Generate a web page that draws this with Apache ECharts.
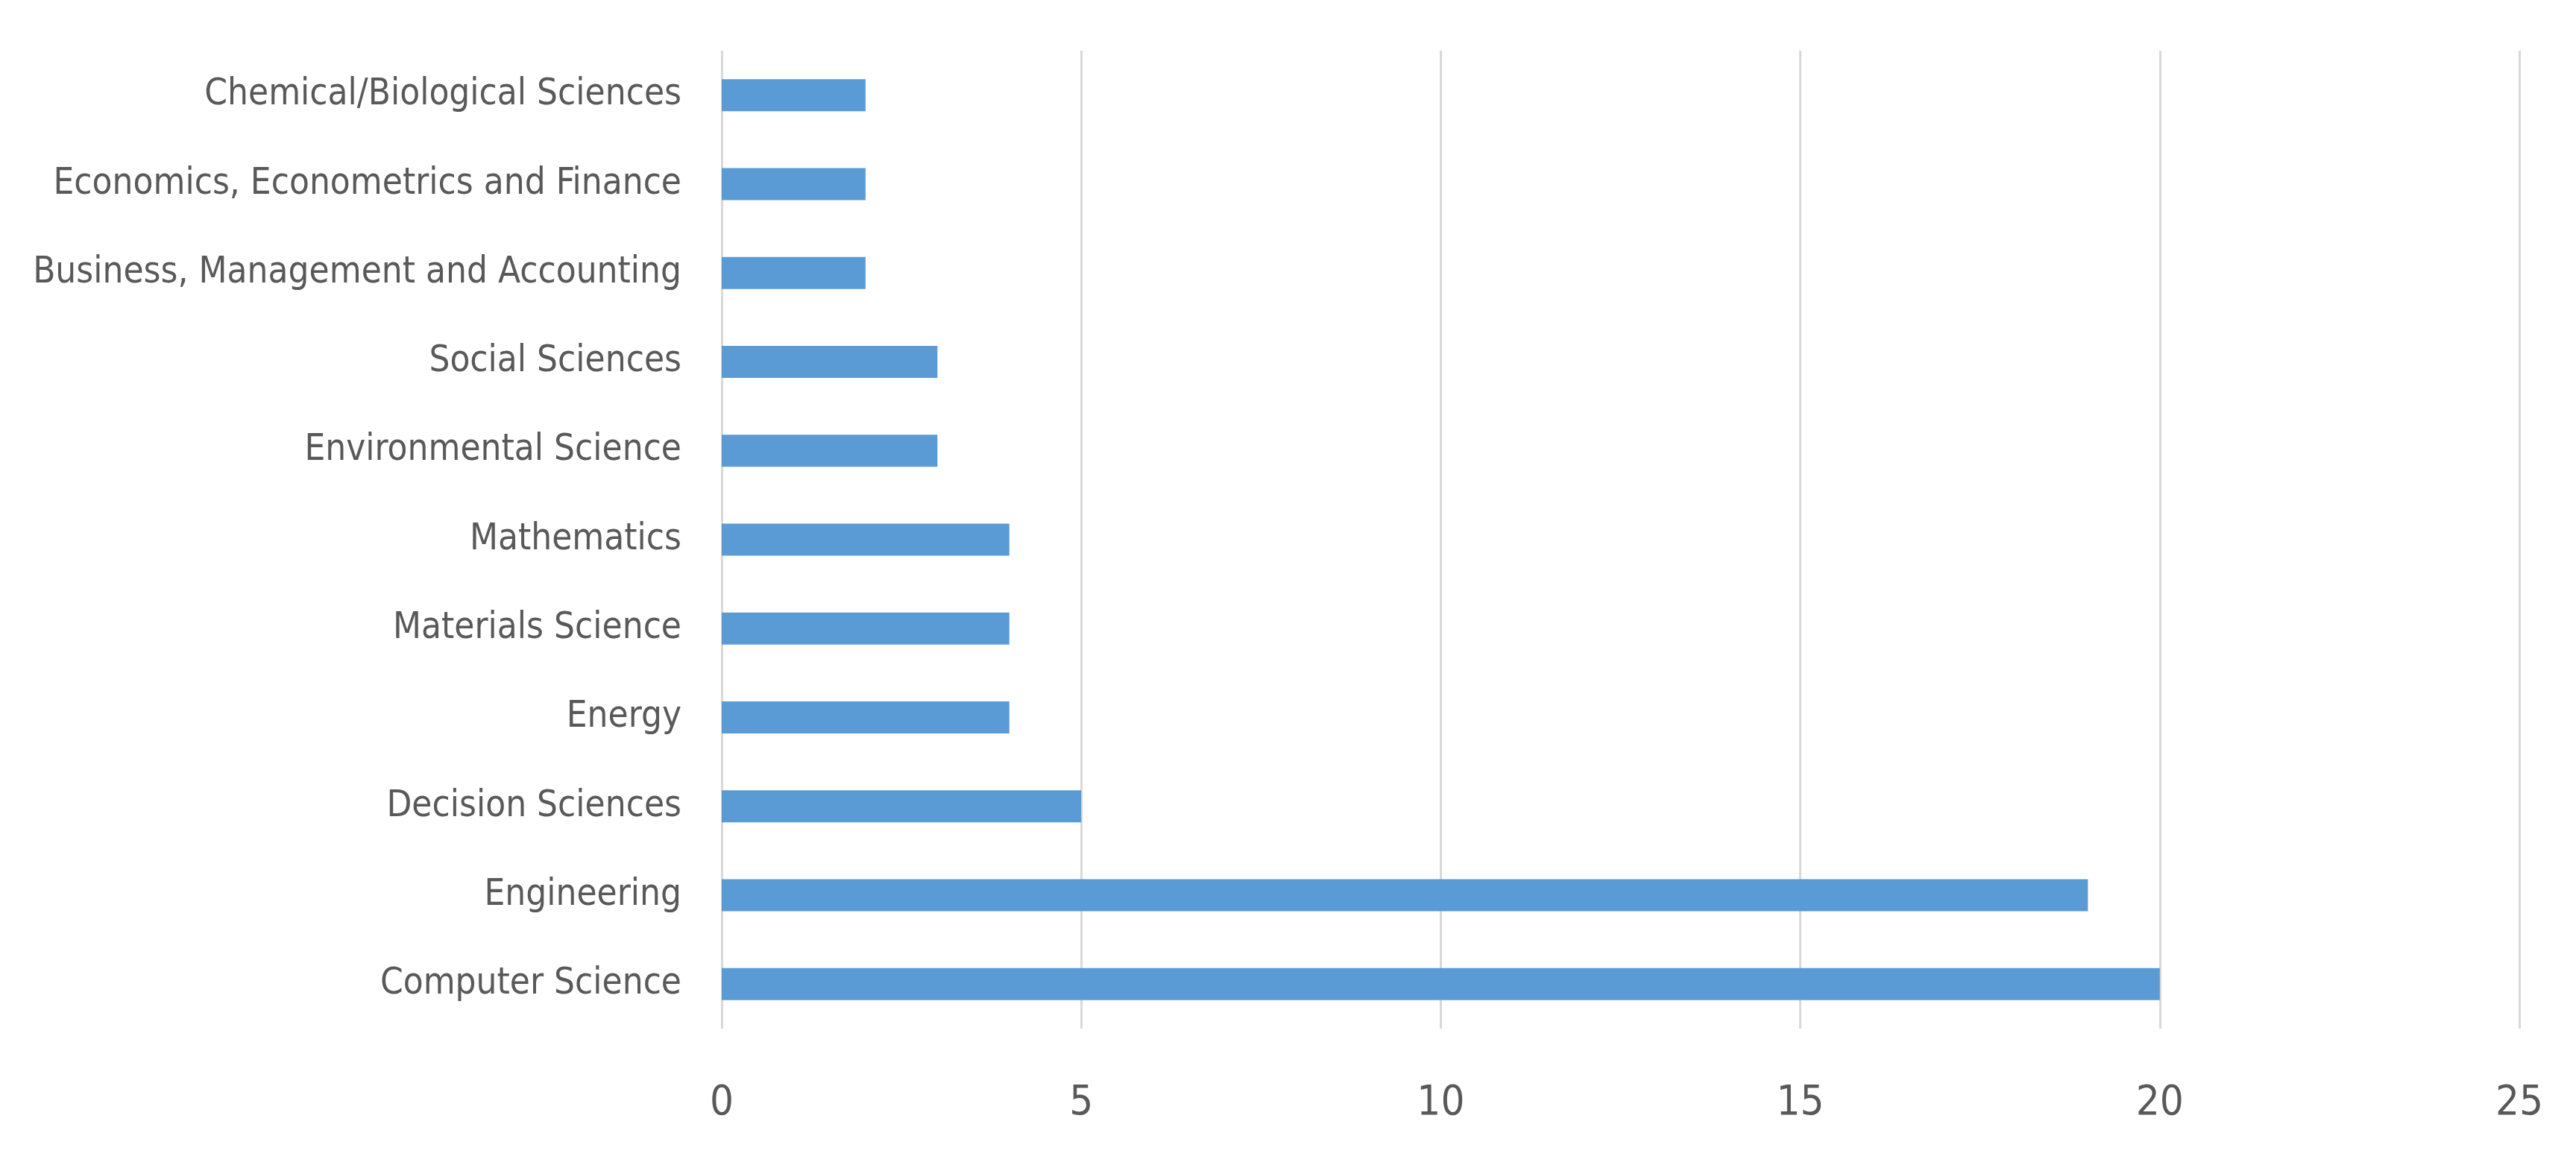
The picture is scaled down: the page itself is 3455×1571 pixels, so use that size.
<!DOCTYPE html>
<html>
<head>
<meta charset="utf-8">
<title>Subject areas</title>
<script src="https://cdn.jsdelivr.net/npm/echarts@6/dist/echarts.min.js"></script>
<style>
  html, body { margin: 0; padding: 0; background: #fff; }
  #chart { width: 3455px; height: 1571px; }
</style>
</head>
<body>
<div id="chart"></div>
<script>
// categories listed bottom -> top
var subjects = [
  'Computer Science',
  'Engineering',
  'Decision Sciences',
  'Energy',
  'Materials Science',
  'Mathematics',
  'Environmental Science',
  'Social Sciences',
  'Business, Management and Accounting',
  'Economics, Econometrics and Finance',
  'Chemical/Biological Sciences'
];
var counts = [20, 19, 5, 4, 4, 4, 3, 3, 2, 2, 2];
var xTicks = [0, 5, 10, 15, 20, 25];

var labelFont = '"Liberation Sans Narrow", "DejaVu Sans Condensed", "Liberation Sans", sans-serif';

var chart = echarts.init(document.getElementById('chart'));
var option = {
  backgroundColor: '#fff',
  animation: false,
  grid: {
    left: 968,
    right: 76,
    top: 68,
    bottom: 191,
    containLabel: false,
    outerBoundsMode: 'none'
  },
  xAxis: {
    type: 'value',
    min: xTicks[0],
    max: xTicks[xTicks.length - 1],
    interval: xTicks[1] - xTicks[0],
    axisLine: { show: false },
    axisTick: { show: false },
    axisLabel: {
      margin: 72,
      color: '#595959',
      fontSize: 56,
      fontFamily: labelFont
    },
    splitLine: {
      show: true,
      lineStyle: { color: '#d9d9d9', width: 3 }
    }
  },
  yAxis: {
    type: 'category',
    data: subjects,
    axisLine: { show: false },
    axisTick: { show: false },
    axisLabel: {
      margin: 54,
      color: '#595959',
      fontSize: 49,
      fontFamily: labelFont
    },
    splitLine: { show: false }
  },
  series: [{
    type: 'bar',
    data: counts,
    barWidth: 43,
    itemStyle: { color: '#5b9bd5' }
  }]
};
chart.setOption(option);
</script>
</body>
</html>
